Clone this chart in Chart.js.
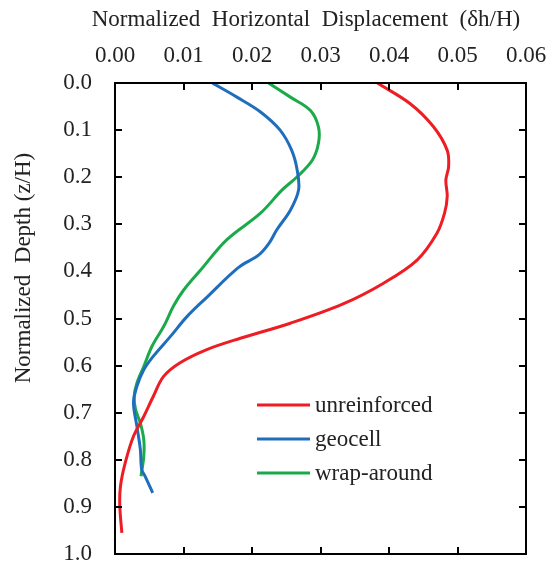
<!DOCTYPE html>
<html>
<head>
<meta charset="utf-8">
<script src="https://cdn.jsdelivr.net/npm/chart.js@4.4.1/dist/chart.umd.min.js"></script>
<style>
  html, body { margin: 0; padding: 0; background: #fff; }
  #wrap { width: 554px; height: 564px; }
</style>
</head>
<body>
<div id="wrap"><canvas id="dispChart"></canvas></div>
<script>
// Series data: horizontal displacement (dh/H) vs depth (z/H)
const seriesNames = ['unreinforced', 'geocell', 'wrap-around'];
const seriesColors = ['#EE1D23', '#1F6EBE', '#1BAA4A'];

const unreinforcedDisp = [0.0383, 0.0431, 0.0465, 0.0485, 0.0487, 0.0483, 0.0485, 0.0481, 0.0470, 0.0441, 0.0392, 0.0333, 0.0256, 0.0183, 0.0134, 0.0095, 0.0071, 0.0056, 0.0042, 0.0027, 0.0015, 0.0008, 0.0007, 0.0010];
const unreinforcedDepth = [0.000, 0.044, 0.093, 0.143, 0.178, 0.206, 0.241, 0.277, 0.319, 0.376, 0.425, 0.469, 0.510, 0.542, 0.566, 0.594, 0.623, 0.665, 0.708, 0.750, 0.806, 0.856, 0.898, 0.955];

const geocellDisp = [0.0142, 0.0178, 0.0212, 0.0241, 0.0258, 0.0266, 0.0268, 0.0256, 0.0236, 0.0225, 0.0210, 0.0180, 0.0134, 0.0105, 0.0081, 0.0056, 0.0042, 0.0032, 0.0027, 0.0032, 0.0037, 0.0039, 0.0044, 0.0055];
const geocellDepth = [0.000, 0.030, 0.061, 0.100, 0.143, 0.185, 0.227, 0.270, 0.312, 0.340, 0.365, 0.392, 0.455, 0.496, 0.538, 0.580, 0.609, 0.644, 0.679, 0.729, 0.778, 0.821, 0.835, 0.870];

const wrapDisp = [0.0224, 0.0256, 0.0285, 0.0297, 0.0297, 0.0288, 0.0266, 0.0244, 0.0212, 0.0163, 0.0125, 0.0100, 0.0086, 0.0071, 0.0054, 0.0042, 0.0032, 0.0028, 0.0030, 0.0037, 0.0042, 0.0042, 0.0038];
const wrapDepth = [0.000, 0.030, 0.058, 0.093, 0.128, 0.164, 0.199, 0.227, 0.277, 0.333, 0.397, 0.440, 0.472, 0.517, 0.559, 0.602, 0.637, 0.665, 0.693, 0.722, 0.757, 0.792, 0.835];

const xTicks = [0.00, 0.01, 0.02, 0.03, 0.04, 0.05, 0.06];
const yTicks = [0.0, 0.1, 0.2, 0.3, 0.4, 0.5, 0.6, 0.7, 0.8, 0.9, 1.0];

const xTitle = 'Normalized  Horizontal  Displacement  (δh/H)';
const yTitle = 'Normalized  Depth (z/H)';

const FONT = '"Liberation Serif", "Times New Roman", serif';
const TEXT = '#222';

function toPoints(xs, ys) {
    return xs.map((x, i) => ({ x: x, y: ys[i] }));
}

// box around the plot, inward ticks on all four sides, axis titles and the legend
const frameAndLegend = {
    id: 'frameAndLegend',
    afterDraw(chart) {
        const ctx = chart.ctx;
        const a = chart.chartArea;
        const xs = chart.scales.x, ys = chart.scales.y;
        ctx.save();
        ctx.strokeStyle = '#000';
        ctx.lineWidth = 2;
        ctx.strokeRect(a.left, a.top, a.right - a.left, a.bottom - a.top);
        ctx.beginPath();
        xTicks.forEach(v => {
            const px = Math.round(xs.getPixelForValue(v));
            ctx.moveTo(px, a.top); ctx.lineTo(px, a.top + 7);
            ctx.moveTo(px, a.bottom); ctx.lineTo(px, a.bottom - 7);
        });
        yTicks.forEach(v => {
            const py = Math.round(ys.getPixelForValue(v));
            ctx.moveTo(a.left, py); ctx.lineTo(a.left + 7, py);
            ctx.moveTo(a.right, py); ctx.lineTo(a.right - 7, py);
        });
        ctx.stroke();

        // axis titles (Excel places them a bit off centre)
        ctx.fillStyle = TEXT;
        ctx.font = '23px ' + FONT;
        ctx.textAlign = 'center';
        ctx.textBaseline = 'middle';
        ctx.fillText(xTitle, 306, 20);
        ctx.save();
        ctx.translate(24, 268);
        ctx.rotate(-Math.PI / 2);
        ctx.fillText(yTitle, 0, 0);
        ctx.restore();

        // legend
        const rows = [405, 439, 473];
        ctx.font = '23px ' + FONT;
        ctx.textAlign = 'left';
        chart.data.datasets.forEach((ds, i) => {
            ctx.strokeStyle = ds.borderColor;
            ctx.lineWidth = 3;
            ctx.beginPath();
            ctx.moveTo(257, rows[i]);
            ctx.lineTo(310, rows[i]);
            ctx.stroke();
            ctx.fillStyle = TEXT;
            ctx.fillText(ds.label, 315, rows[i] + 1);
        });
        ctx.restore();
    }
};

const ctx = document.getElementById('dispChart').getContext('2d');
new Chart(ctx, {
    type: 'scatter',
    data: {
        datasets: [
            { label: seriesNames[0], data: toPoints(unreinforcedDisp, unreinforcedDepth), borderColor: seriesColors[0] },
            { label: seriesNames[1], data: toPoints(geocellDisp, geocellDepth), borderColor: seriesColors[1] },
            { label: seriesNames[2], data: toPoints(wrapDisp, wrapDepth), borderColor: seriesColors[2] }
        ].map(d => Object.assign(d, {
            showLine: true,
            borderWidth: 3,
            pointRadius: 0,
            pointHoverRadius: 0,
            tension: 0.35,
            fill: false
        }))
    },
    options: {
        responsive: true,
        maintainAspectRatio: false,
        animation: false,
        layout: { padding: { left: 0, right: 28, top: 0, bottom: 10 } },
        plugins: {
            legend: { display: false },
            tooltip: { enabled: false }
        },
        scales: {
            x: {
                type: 'linear',
                position: 'top',
                min: 0,
                max: 0.06,
                afterBuildTicks: s => { s.ticks = xTicks.map(v => ({ value: v })); },
                afterFit: s => { s.height = 83; s.paddingLeft = 0; s.paddingRight = 0; },
                grid: { display: false, drawTicks: false },
                border: { display: false },
                ticks: {
                    padding: 13,
                    color: TEXT,
                    font: { family: FONT, size: 23 },
                    callback: v => v.toFixed(2)
                }
            },
            y: {
                type: 'linear',
                reverse: true,
                min: 0,
                max: 1,
                afterBuildTicks: s => { s.ticks = yTicks.map(v => ({ value: v })); },
                afterFit: s => { s.width = 115; s.paddingTop = 0; s.paddingBottom = 0; },
                grid: { display: false, drawTicks: false },
                border: { display: false },
                ticks: {
                    padding: 23,
                    color: TEXT,
                    font: { family: FONT, size: 23 },
                    callback: v => v.toFixed(1)
                }
            }
        }
    },
    plugins: [frameAndLegend]
});
</script>
</body>
</html>
